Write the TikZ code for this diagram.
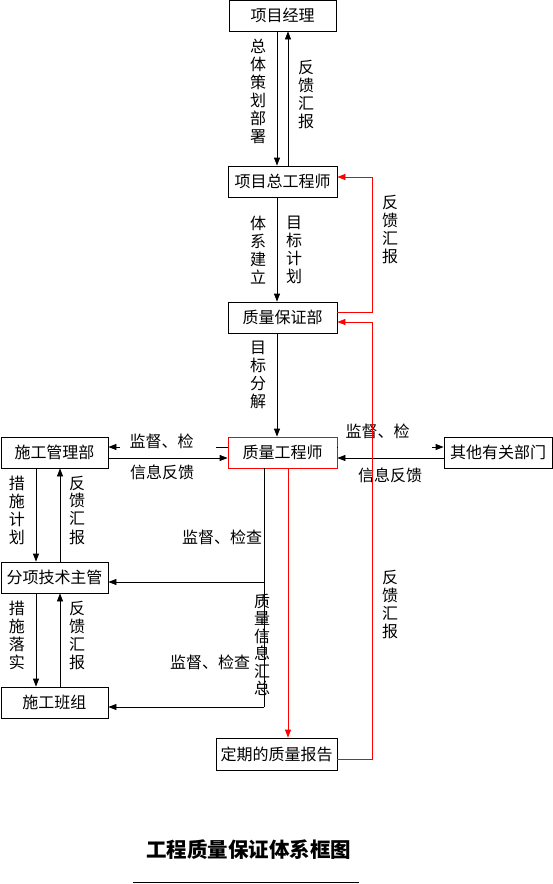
\documentclass[tikz,border=0pt]{standalone}
\usepackage{fontspec}
\newfontfamily\cjk{Noto Sans CJK SC}
\usetikzlibrary{arrows.meta}
\begin{document}
\begin{tikzpicture}[x=1pt,y=1pt,
  box/.style={draw, line width=0.8pt, minimum height=31pt, inner sep=0pt, font=\cjk\fontsize{16}{18}\selectfont},
  redbox/.style={box, draw=red},
  arr/.style={line width=0.8pt, -{Triangle[length=8pt,width=6pt]}},
  rarr/.style={arr, draw=red},
  plain/.style={line width=0.8pt},
  vlab/.style={font=\cjk\fontsize{16}{18}\selectfont, align=center, inner sep=0pt},
  lab/.style={font=\cjk\fontsize{16}{18}\selectfont, inner sep=0pt}]
\useasboundingbox (0,0) rectangle (552,-884);
% boxes
\node[box, minimum width=107pt] (pm) at (282.5,-15.5) {项目经理};
\node[box, minimum width=109pt] (ce) at (282.5,-181.5) {项目总工程师};
\node[box, minimum width=109pt] (qa) at (282.5,-317.5) {质量保证部};
\node[redbox, minimum width=109pt] (qe) at (282.5,-452.5) {质量工程师};
\node[box, minimum width=107pt] (cm) at (54.5,-452.5) {施工管理部};
\node[box, minimum width=108pt] (od) at (498,-452.5) {其他有关部门};
\node[box, minimum width=107pt] (st) at (54.5,-577.5) {分项技术主管};
\node[box, minimum width=107pt] (wt) at (54.5,-702.5) {施工班组};
\node[box, minimum width=121pt, minimum height=32pt] (rp) at (276.5,-754) {定期的质量报告};
% helper coordinates
\coordinate (xa) at (277,0);
\coordinate (xb) at (288,0);
\coordinate (xl1) at (36,0);
\coordinate (xl2) at (60,0);
\coordinate (xv) at (264,0);
\coordinate (xr) at (372,0);
% top chain
\draw[arr] (pm.south -| xa) -- (ce.north -| xa);
\draw[arr] (ce.north -| xb) -- (pm.south -| xb);
\draw[arr] (ce.south -| xa) -- (qa.north -| xa);
\draw[arr] (qa.south -| xa) -- (qe.north -| xa);
\node[vlab] at (258,-91) {总\\体\\策\\划\\部\\署};
\node[vlab] at (306,-95) {反\\馈\\汇\\报};
\node[vlab] at (258,-250) {体\\系\\建\\立};
\node[vlab] at (294,-250) {目\\标\\计\\划};
\node[vlab] at (258,-375) {目\\标\\分\\解};
% left/right exchange
\coordinate (yu) at (0,-447);
\coordinate (yd) at (0,-458);
\draw[arr] (qe.west |- yu) -- (cm.east |- yu);
\draw[arr] (cm.east |- yd) -- (qe.west |- yd);
\draw[arr] (od.west |- yd) -- (qe.east |- yd);
\draw[arr] (qe.east |- yu) -- (od.west |- yu);
\fill[white] (120,-431) rectangle (216,-452);
\fill[white] (337.5,-413) rectangle (432,-452);
\node[lab] at (161.5,-441) {监督、检};
\node[lab] at (377.5,-431) {监督、检};
\node[lab] at (162,-472) {信息反馈};
\node[lab] at (390,-475) {信息反馈};
% left column
\draw[arr] (cm.south -| xl1) -- (st.north -| xl1);
\draw[arr] (st.north -| xl2) -- (cm.south -| xl2);
\draw[arr] (st.south -| xl1) -- (wt.north -| xl1);
\draw[arr] (wt.north -| xl2) -- (st.south -| xl2);
\node[vlab] at (17,-510) {措\\施\\计\\划};
\node[vlab] at (77,-510) {反\\馈\\汇\\报};
\node[vlab] at (17,-635) {措\\施\\落\\实};
\node[vlab] at (77,-635) {反\\馈\\汇\\报};
% supervision branch
\coordinate (ys) at (0,-582);
\coordinate (yw) at (0,-707);
\draw[plain] (qe.south -| xv) -- (xv |- yw);
\draw[arr] (xv |- ys) -- (st.east |- ys);
\draw[arr] (xv |- yw) -- (wt.east |- yw);
\node[lab] at (222,-537) {监督、检查};
\node[lab] at (210,-662) {监督、检查};
\node[vlab, font=\cjk\fontsize{16}{17.5}\selectfont] at (262,-645) {质\\量\\信\\息\\汇\\总};
% red feedback
\coordinate (yr1) at (0,-312);
\coordinate (yr2) at (0,-177);
\coordinate (yr3) at (0,-759);
\coordinate (yr4) at (0,-322);
\draw[rarr] (qa.east |- yr1) -- (xr |- yr1) -- (xr |- yr2) -- (ce.east |- yr2);
\draw[rarr] (rp.east |- yr3) -- (xr |- yr3) -- (xr |- yr4) -- (qa.east |- yr4);
\draw[rarr] (qe.south -| xb) -- (rp.north -| xb);
\node[vlab] at (390,-230) {反\\馈\\汇\\报};
\node[vlab] at (390,-604) {反\\馈\\汇\\报};
% title
\node[font=\cjk\bfseries\fontsize{20.5}{22}\selectfont, inner sep=0pt] (title) at (248.5,-849.5) {工程质量保证体系框图};
\draw[line width=0.8pt] (133,-882.6) -- (359,-882.6);
\end{tikzpicture}
\end{document}
